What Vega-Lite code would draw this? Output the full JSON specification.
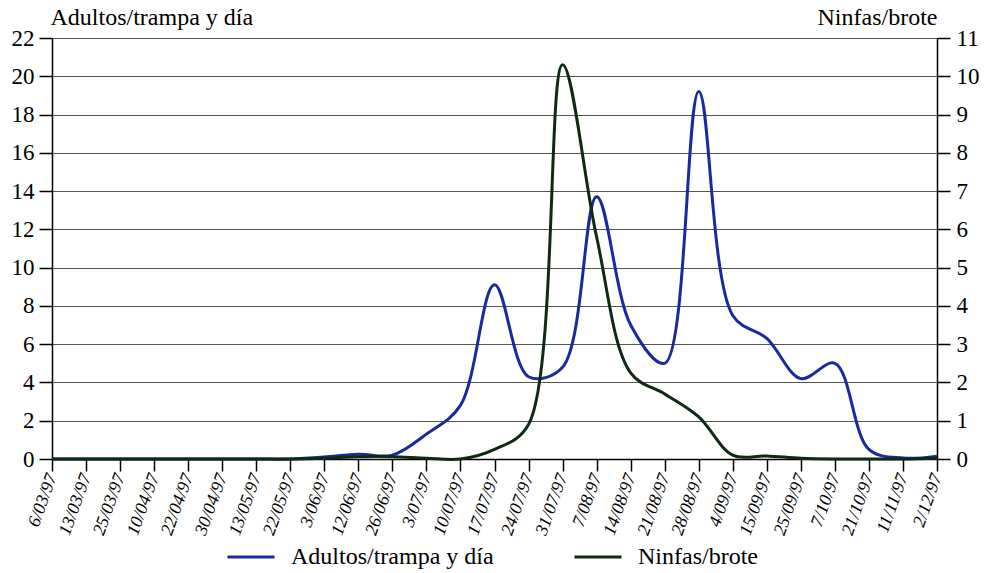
{
  "$schema": "https://vega.github.io/schema/vega-lite/v6.json",
  "width": 885,
  "height": 421,
  "autosize": {"type": "none"},
  "padding": {"left": 52, "top": 38, "right": 50, "bottom": 114},
  "background": "white",
  "config": {
    "font": "Liberation Serif",
    "view": {"stroke": null},
    "axis": {"domainColor": "black", "tickColor": "black", "labelColor": "black", "titleColor": "black", "domainWidth": 1.5, "tickWidth": 1.5}
  },
  "data": {
    "values": [
      {"fecha": "6/03/97", "adultos": 0, "ninfas": 0},
      {"fecha": "13/03/97", "adultos": 0, "ninfas": 0},
      {"fecha": "25/03/97", "adultos": 0, "ninfas": 0},
      {"fecha": "10/04/97", "adultos": 0, "ninfas": 0},
      {"fecha": "22/04/97", "adultos": 0, "ninfas": 0},
      {"fecha": "30/04/97", "adultos": 0, "ninfas": 0},
      {"fecha": "13/05/97", "adultos": 0, "ninfas": 0},
      {"fecha": "22/05/97", "adultos": 0, "ninfas": 0},
      {"fecha": "3/06/97", "adultos": 0.1, "ninfas": 0.02},
      {"fecha": "12/06/97", "adultos": 0.25, "ninfas": 0.06},
      {"fecha": "26/06/97", "adultos": 0.2, "ninfas": 0.06},
      {"fecha": "3/07/97", "adultos": 1.3, "ninfas": 0.02},
      {"fecha": "10/07/97", "adultos": 2.8, "ninfas": 0},
      {"fecha": "17/07/97", "adultos": 9.1, "ninfas": 0.25},
      {"fecha": "24/07/97", "adultos": 4.3, "ninfas": 0.9},
      {"fecha": "31/07/97", "adultos": 4.8, "ninfas": 10.3},
      {"fecha": "7/08/97", "adultos": 13.7, "ninfas": 5.8},
      {"fecha": "14/08/97", "adultos": 7.0, "ninfas": 2.25},
      {"fecha": "21/08/97", "adultos": 5.0, "ninfas": 1.7},
      {"fecha": "28/08/97", "adultos": 19.2, "ninfas": 1.1},
      {"fecha": "4/09/97", "adultos": 7.5, "ninfas": 0.1},
      {"fecha": "15/09/97", "adultos": 6.3, "ninfas": 0.08},
      {"fecha": "25/09/97", "adultos": 4.2, "ninfas": 0.02},
      {"fecha": "7/10/97", "adultos": 5.0, "ninfas": 0},
      {"fecha": "21/10/97", "adultos": 0.5, "ninfas": 0},
      {"fecha": "11/11/97", "adultos": 0.05, "ninfas": 0},
      {"fecha": "2/12/97", "adultos": 0.15, "ninfas": 0.02}
    ]
  },
  "encoding": {
    "x": {
      "field": "fecha",
      "type": "ordinal",
      "sort": null,
      "scale": {"type": "point", "padding": 0},
      "axis": {
        "title": null,
        "grid": false,
        "tickSize": 12,
        "labelPadding": 3,
        "labelAngle": -70,
        "labelAlign": "right",
        "labelBaseline": "middle",
        "labelFontSize": 18,
        "labelFontStyle": "italic"
      }
    }
  },
  "layer": [
    {
      "mark": {"type": "line", "interpolate": "catmull-rom", "strokeWidth": 3},
      "encoding": {
        "y": {
          "field": "adultos",
          "type": "quantitative",
          "scale": {"domain": [0, 22], "nice": false},
          "axis": {
            "orient": "left",
            "values": [0, 2, 4, 6, 8, 10, 12, 14, 16, 18, 20, 22],
            "grid": true,
            "gridColor": "#555555",
            "gridWidth": 1.2,
            "gridOpacity": 1,
            "tickSize": 13,
            "labelPadding": 5,
            "labelFontSize": 23,
            "title": "Adultos/trampa y día",
            "titleAngle": 0,
            "titleAlign": "left",
            "titleBaseline": "alphabetic",
            "titleX": -2,
            "titleY": -14,
            "titleFontSize": 24,
            "titleFontWeight": "normal"
          }
        },
        "color": {
          "datum": "Adultos/trampa y día",
          "scale": {"domain": ["Adultos/trampa y día", "Ninfas/brote"], "range": ["#1a2a9e", "#0e2a12"]},
          "legend": {
            "title": null,
            "orient": "none",
            "direction": "horizontal",
            "legendX": 174,
            "legendY": 494,
            "symbolType": "stroke",
            "symbolSize": 2209,
            "symbolStrokeWidth": 3,
            "labelFontSize": 24,
            "labelOffset": 15,
            "columnPadding": 74,
            "labelLimit": 400
          }
        }
      }
    },
    {
      "mark": {"type": "line", "interpolate": "catmull-rom", "strokeWidth": 3},
      "encoding": {
        "y": {
          "field": "ninfas",
          "type": "quantitative",
          "scale": {"domain": [0, 11], "nice": false},
          "axis": {
            "orient": "right",
            "values": [0, 1, 2, 3, 4, 5, 6, 7, 8, 9, 10, 11],
            "grid": false,
            "tickSize": 13,
            "labelPadding": 6,
            "labelFontSize": 23,
            "title": "Ninfas/brote",
            "titleAngle": 0,
            "titleAlign": "right",
            "titleBaseline": "alphabetic",
            "titleX": 0,
            "titleY": -14,
            "titleFontSize": 24,
            "titleFontWeight": "normal"
          }
        },
        "color": {"datum": "Ninfas/brote"}
      }
    }
  ],
  "resolve": {"scale": {"y": "independent"}}
}
